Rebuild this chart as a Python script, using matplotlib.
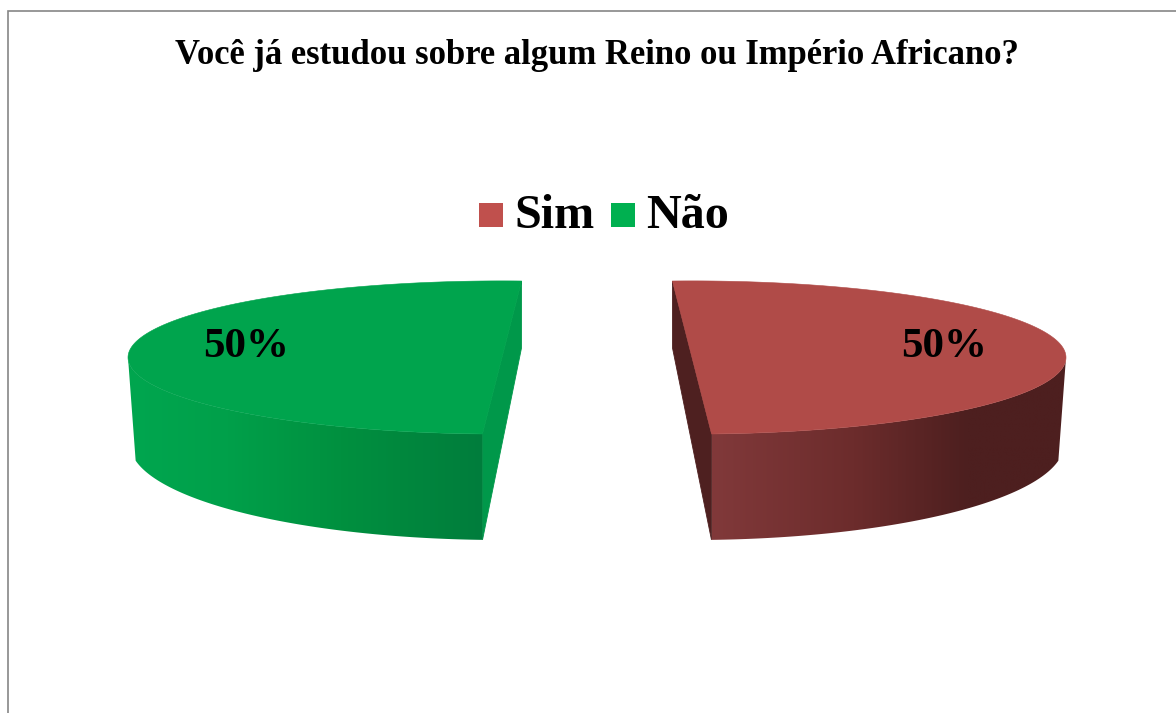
import numpy as np
import matplotlib
matplotlib.use('Agg')
import matplotlib.pyplot as plt
from matplotlib.colors import LinearSegmentedColormap
from matplotlib.patches import Patch, Polygon

title = 'Você já estudou sobre algum Reino ou Império Africano?'
categories = ['Sim', 'Não']
values = [50, 50]

legend_colors = ['#c0504d', '#00b050']
top_colors = ['#b04b48', '#00a44d']
side_colors = ['#4e2020', '#00984a']
# wall colours from the split of the pie to the outer edge
wall_stops = [['#81393a', '#6c2c2c', '#4d1f1f', '#4d1f1f'],
              ['#007d3c', '#00903f', '#00a04a', '#00a64f']]
wall_pos = [0.0, 0.4, 0.72, 1.0]

label_x = [944.5, 246.5]
label_y = 357
center_x = [692, 502]
mirror = [1, -1]
top_cy, top_a, top_b = 357.5, 374, 76.6
bot_cy, bot_a, bot_b = 444, 372, 96
start_deg = 93

plt.rcParams['font.family'] = ['Liberation Serif', 'DejaVu Serif']
fig = plt.figure(figsize=(11.76, 7.13), dpi=100)
ax = fig.add_axes([0, 0, 1, 1])

total = sum(values)


def arc(cx, sign, cy, a, b, t1, t2):
    t = np.radians(np.linspace(t1, t2, 200))
    return np.column_stack([cx + sign * a * np.cos(t), cy - b * np.sin(t)])


for i, v in enumerate(values):
    cx, sign = center_x[i], mirror[i]
    end_deg = start_deg - 360 * v / total
    top = arc(cx, sign, top_cy, top_a, top_b, start_deg, end_deg)
    bot_back = arc(cx, sign, bot_cy, bot_a, bot_b, start_deg, start_deg)[0]
    bot_front = arc(cx, sign, bot_cy, bot_a, bot_b, end_deg, end_deg)[0]

    # flat cut face
    ax.add_patch(Polygon([top[0], top[-1], bot_front, bot_back], fc=side_colors[i], ec=side_colors[i], lw=0.6, zorder=1))

    # outer wall, shaded left to right with a clipped gradient
    wall_top = arc(cx, sign, top_cy, top_a, top_b, end_deg, 0)
    wall_bot = arc(cx, sign, bot_cy, bot_a, bot_b, -10, end_deg)
    wall = Polygon(np.vstack([wall_top, wall_bot]), fc='none', ec='none', zorder=2)
    ax.add_patch(wall)
    x0, x1 = top[-1][0], cx + sign * top_a
    cmap = LinearSegmentedColormap.from_list('wall', list(zip(wall_pos, wall_stops[i])))
    im = ax.imshow(np.linspace(0, 1, 256)[None, :], cmap=cmap, aspect='auto', zorder=2,
                   extent=[x0, x1, bot_cy + bot_b + 2, top_cy - 2])
    im.set_clip_path(wall)

    # top of the slice
    ax.add_patch(Polygon(top, fc=top_colors[i], ec=top_colors[i], lw=0.4, zorder=3))
    ax.text(label_x[i], label_y, f'{v / total * 100:.0f}%', fontsize=31, fontweight='bold',
            ha='center', va='baseline', zorder=4)

ax.set_xlim(0, 1176)
ax.set_ylim(713, 0)
ax.axis('off')

# chart frame, only top and left fall inside the crop
ax.plot([1176, 8, 8], [11, 11, 713], color='#868686', lw=1.2, solid_joinstyle='miter', zorder=5)

ax.text(596.5, 64, title, fontsize=24.9, fontweight='bold', ha='center', va='baseline')

handles = [Patch(fc=c, ec='none') for c in legend_colors]
leg = ax.legend(handles, categories, ncols=2, frameon=False, loc='center', bbox_to_anchor=(604, 216),
                bbox_transform=ax.transData, prop={'size': 34.7, 'weight': 'bold'}, borderpad=0, borderaxespad=0,
                handlelength=0.5, handleheight=0.48, handletextpad=0.23, columnspacing=0.33)
# squares sit lower than the default legend handle
for p in leg.get_patches():
    p.set_y(0.76)
    p.set_height(17.3)

fig.savefig('out.png', dpi=100)
